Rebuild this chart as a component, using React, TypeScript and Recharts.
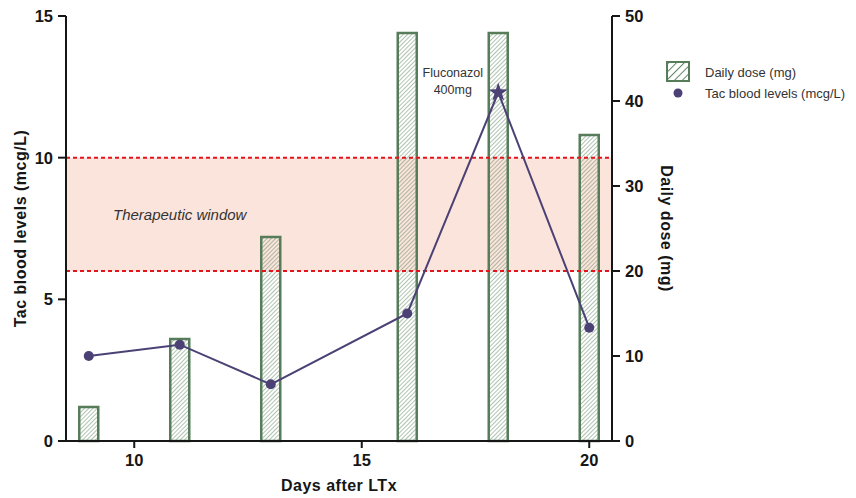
import {
  ComposedChart,
  Bar,
  Line,
  XAxis,
  YAxis,
  ReferenceArea,
  ReferenceLine,
  ReferenceDot,
  Legend,
} from "recharts";

// values
const days = [9, 11, 13, 16, 18, 20];
const dailyDose = [4, 12, 24, 48, 48, 36];
const tacLevels = [3.0, 3.4, 2.0, 4.5, 12.3, 4.0];
const xTicks = [10, 15, 20];
const leftTicks = [0, 5, 10, 15];
const rightTicks = [0, 10, 20, 30, 40, 50];
const therapeuticWindow = [6, 10];
const fluconazolDay = 18;

const data = days.map((day, i) => ({ day, dose: dailyDose[i], tac: tacLevels[i] }));

const axisColor = "#161616";
const barStroke = "#567c5a";
const hatchColor = "#5f8763";
const lineColor = "#4b4174";
const bandColor = "#fbe4dc";
const redLine = "#e5131b";

const tickStyle = { fontSize: 16.5, fontWeight: "bold", fill: axisColor };
const titleStyle = { fontSize: 16, fontWeight: "bold", fill: axisColor, letterSpacing: 0.5 };

function starPoints(cx: number, cy: number, outer: number, inner: number) {
  const pts: string[] = [];
  for (let i = 0; i < 10; i++) {
    const r = i % 2 === 0 ? outer : inner;
    const a = -Math.PI / 2 + (i * Math.PI) / 5;
    pts.push(`${cx + r * Math.cos(a)},${cy + r * Math.sin(a)}`);
  }
  return pts.join(" ");
}

const renderDot = (props: any) => {
  const { cx, cy, payload, index } = props;
  if (payload.day === fluconazolDay) {
    return <polygon key={`dot-${index}`} points={starPoints(cx, cy, 10, 4)} fill={lineColor} />;
  }
  return <circle key={`dot-${index}`} cx={cx} cy={cy} r={5} fill={lineColor} />;
};

const renderLegend = () => (
  <svg width={190} height={44} style={{ display: "block" }}>
    <rect x={2} y={4} width={22} height={19} fill="url(#hatchLegend)" stroke={barStroke} strokeWidth={2} />
    <text x={40} y={14} dominantBaseline="central" fontSize={13} fill="#333">
      Daily dose (mg)
    </text>
    <circle cx={13} cy={35} r={4.5} fill={lineColor} />
    <text x={40} y={35} dominantBaseline="central" fontSize={13} fill="#333">
      Tac blood levels (mcg/L)
    </text>
  </svg>
);

const renderFluconazol = (props: any) => {
  const { viewBox } = props;
  const cx = viewBox.x + viewBox.width / 2;
  const cy = viewBox.y + viewBox.height / 2;
  return (
    <text textAnchor="middle" fontSize={12.5} fill="#333">
      <tspan x={cx} y={cy - 8}>Fluconazol</tspan>
      <tspan x={cx} dy={17}>400mg</tspan>
    </text>
  );
};

export default function App() {
  return (
    <div
      style={{
        position: "absolute",
        left: 0,
        top: 0,
        width: 856,
        height: 498,
        background: "#fff",
        fontFamily: "'Liberation Sans', Arial, sans-serif",
      }}
    >
      <ComposedChart width={856} height={498} data={data} margin={{ top: 16, right: 184, bottom: 0, left: 0 }}>
        <defs>
          <pattern id="hatch" width={3} height={3} patternUnits="userSpaceOnUse" patternTransform="rotate(45)">
            <line x1={0} y1={0} x2={0} y2={3} stroke={hatchColor} strokeWidth={1} />
          </pattern>
          <pattern id="hatchLegend" width={5.5} height={5.5} patternUnits="userSpaceOnUse" patternTransform="rotate(45)">
            <line x1={0} y1={0} x2={0} y2={5.5} stroke={hatchColor} strokeWidth={2} />
          </pattern>
        </defs>
        <XAxis
          dataKey="day"
          type="number"
          domain={[8.5, 20.5]}
          ticks={xTicks}
          height={57}
          tickSize={7}
          tickMargin={6}
          tick={tickStyle}
          axisLine={{ stroke: axisColor, strokeWidth: 2 }}
          tickLine={{ stroke: axisColor, strokeWidth: 2 }}
          label={{ value: "Days after LTx", position: "center", dy: 16, ...titleStyle }}
        />
        <YAxis
          yAxisId="left"
          domain={[0, 15]}
          ticks={leftTicks}
          width={66}
          tickSize={8}
          tickMargin={5}
          tick={tickStyle}
          axisLine={{ stroke: axisColor, strokeWidth: 2 }}
          tickLine={{ stroke: axisColor, strokeWidth: 2 }}
          label={{ value: "Tac blood levels (mcg/L)", angle: -90, position: "center", dx: -13, ...titleStyle }}
        />
        <YAxis
          yAxisId="right"
          orientation="right"
          domain={[0, 50]}
          ticks={rightTicks}
          width={60}
          tickSize={8}
          tickMargin={5}
          tick={tickStyle}
          axisLine={{ stroke: axisColor, strokeWidth: 2 }}
          tickLine={{ stroke: axisColor, strokeWidth: 2 }}
          label={{ value: "Daily dose (mg)", angle: 90, position: "center", dx: 25, ...titleStyle }}
        />
        <ReferenceArea
          yAxisId="left"
          y1={therapeuticWindow[0]}
          y2={therapeuticWindow[1]}
          fill={bandColor}
          fillOpacity={1}
          stroke="none"
          label={{
            value: "Therapeutic window",
            position: "insideLeft",
            offset: 47,
            fontSize: 15,
            fontStyle: "italic",
            fill: "#333",
            style: { fontStyle: "italic" },
          }}
        />
        <ReferenceLine yAxisId="left" y={therapeuticWindow[0]} stroke={redLine} strokeWidth={2} strokeDasharray="4 3" />
        <ReferenceLine yAxisId="left" y={therapeuticWindow[1]} stroke={redLine} strokeWidth={2} strokeDasharray="4 3" />
        <Bar
          yAxisId="right"
          dataKey="dose"
          barSize={19}
          fill="url(#hatch)"
          stroke={barStroke}
          strokeWidth={2.5}
          isAnimationActive={false}
        />
        <Line
          yAxisId="left"
          dataKey="tac"
          stroke={lineColor}
          strokeWidth={2}
          dot={renderDot}
          activeDot={false}
          isAnimationActive={false}
        />
        <ReferenceDot
          yAxisId="left"
          x={17}
          y={12.57}
          r={1}
          fill="none"
          stroke="none"
          label={{ content: renderFluconazol }}
        />
        <Legend
          layout="horizontal"
          verticalAlign="middle"
          align="center"
          content={renderLegend}
          wrapperStyle={{ position: "absolute", top: 58, left: 665, width: 196 }}
        />
      </ComposedChart>
    </div>
  );
}
